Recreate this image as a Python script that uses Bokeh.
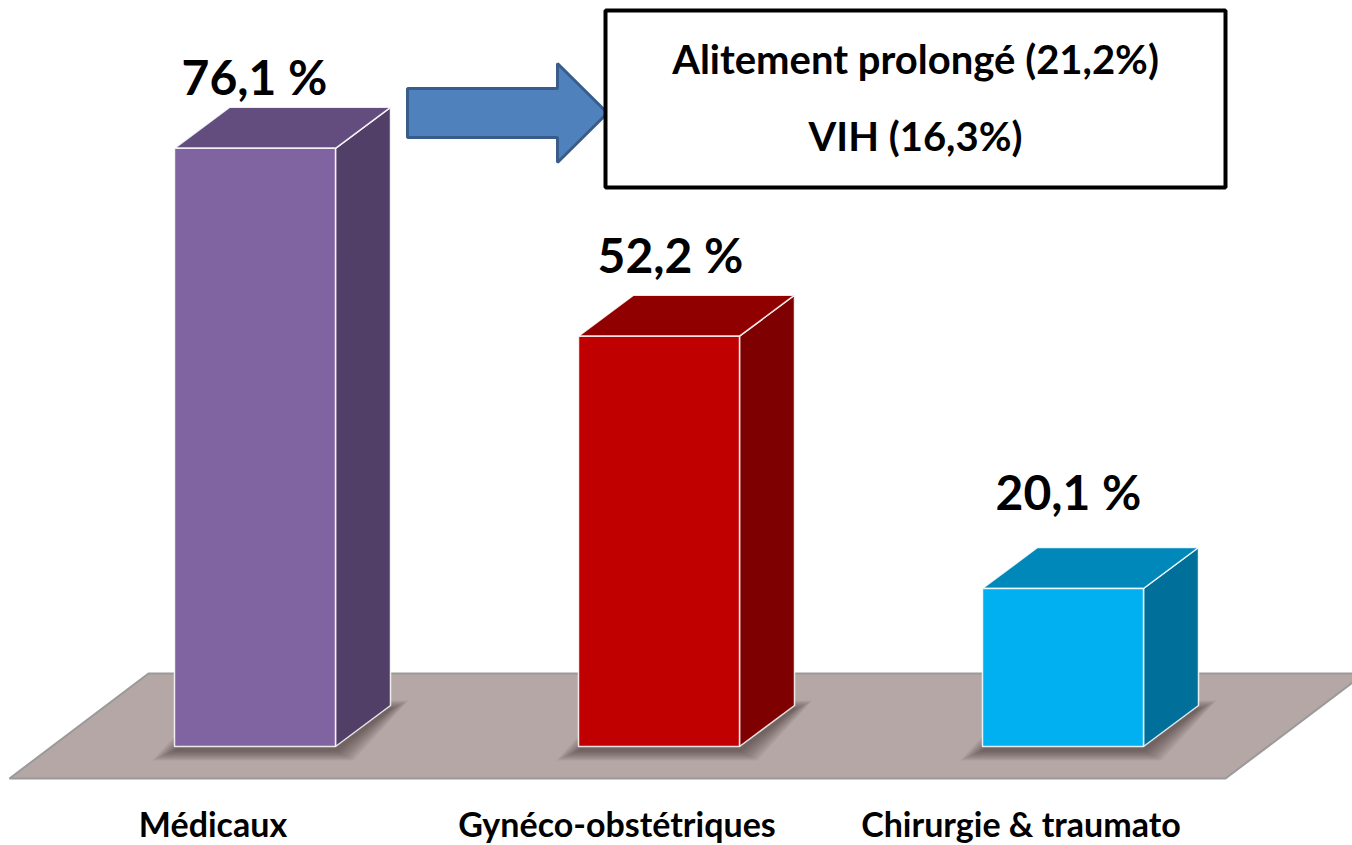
from bokeh.plotting import figure
from bokeh.models import Range1d, ColumnDataSource
from bokeh.core.properties import value
from bokeh.embed import file_html
from bokeh.resources import INLINE

# ---- data ----
categories = ["Médicaux", "Gynéco-obstétriques", "Chirurgie & traumato"]
values = [76.1, 52.2, 20.1]
value_labels = ["76,1 %", "52,2 %", "20,1 %"]
note_lines = ["Alitement prolongé (21,2%)", "VIH (16,3%)"]

# ---- style ----
front_colors = ["#8064A2", "#C00000", "#00B0F0"]
side_colors = ["#523F68", "#7F0000", "#00709A"]
top_colors = ["#634C7E", "#900000", "#0088BA"]
label_dy = [6.7, 7.9, 9.9]      # percent units above bar top (baseline)
label_dx = [-0.5, 11.5, 5.5]    # px offset of value labels
FONT = "Lato"
VAL_SIZE = 48
CAT_SIZE = 34
NOTE_SIZE = 40
BASE_FIX = 0.41                 # em correction for rendered baseline

W, H = 1352, 845
XU = 404.0   # px per category step
YU = 7.86    # px per percent
X0 = 254.5   # page x of first bar centre
Y0 = 746.0   # page y of value 0


def sx(px):
    return (px - X0) / XU


def sy(py):
    return (Y0 - py) / YU


p = figure(width=W, height=H,
           x_range=Range1d(sx(0), sx(W)),
           y_range=Range1d(sy(H), sy(0)),
           output_backend="svg", toolbar_location=None,
           x_axis_location=None, y_axis_location=None,
           min_border=0, background_fill_color="white",
           border_fill_color="white")
p.grid.visible = False
p.outline_line_color = None

bw = 161.0 / XU
ddx = 55.0 / XU
ddy = 41.0 / YU
idx = list(range(len(values)))

# ---- floor ----
p.patch([sx(9), sx(1225), sx(1364), sx(148)],
        [sy(778), sy(778), sy(673), sy(673)],
        fill_color="#B4A7A5", line_color="#9A9A9A", line_width=2)

# ---- soft shadows ----
for k in range(9):
    e = 22 - 2.5 * k
    ex = e / XU
    ey = e / YU
    off = 4 / YU
    xs, ys = [], []
    for i in idx:
        l = i - bw / 2 - ex
        r = i + bw / 2 + ex * 0.8
        xs.append([l, r, r + ddx, l + ddx])
        ys.append([-ey * 0.45 - off, -ey * 0.45 - off, ddy + ey * 0.4 - off, ddy + ey * 0.4 - off])
    p.patches(xs, ys, fill_color="#2a1f1f", fill_alpha=0.065, line_color=None)

# ---- 3D bars ----
fx, fy, sxs, sys_, tx, ty = [], [], [], [], [], []
for i, v in zip(idx, values):
    l, r = i - bw / 2, i + bw / 2
    fx.append([l, r, r, l]); fy.append([0, 0, v, v])
    sxs.append([r, r + ddx, r + ddx, r]); sys_.append([0, ddy, v + ddy, v])
    tx.append([l, r, r + ddx, l + ddx]); ty.append([v, v, v + ddy, v + ddy])

p.patches(sxs, sys_, fill_color=side_colors, line_color="white", line_alpha=0.85, line_width=1.5)
p.patches(tx, ty, fill_color=top_colors, line_color="white", line_alpha=0.85, line_width=1.5)
p.patches(fx, fy, fill_color=front_colors, line_color="white", line_alpha=0.85, line_width=1.5)

# ---- value labels ----
src = ColumnDataSource(dict(
    x=[i + d / XU for i, d in zip(idx, label_dx)],
    y=[v + d + BASE_FIX * VAL_SIZE / YU for v, d in zip(values, label_dy)],
    t=value_labels))
p.text("x", "y", text="t", source=src, text_font=value(FONT), text_font_style="bold",
       text_font_size=f"{VAL_SIZE}px", text_align="center", text_baseline="alphabetic",
       text_color="black")

# ---- category labels ----
csrc = ColumnDataSource(dict(x=[i - 42 / XU for i in idx],
                             y=[sy(837 - BASE_FIX * CAT_SIZE)] * len(idx), t=categories))
p.text("x", "y", text="t", source=csrc, text_font=value(FONT), text_font_style="bold",
       text_font_size=f"{CAT_SIZE}px", text_align="center", text_baseline="alphabetic",
       text_color="black")

# ---- arrow ----
ax = [407, 557, 557, 607, 557, 557, 407]
ay = [88, 88, 63, 112.5, 162, 137, 137]
p.patch([sx(a) for a in ax], [sy(b) for b in ay],
        fill_color="#4F81BD", line_color="#385D8A", line_width=3)

# ---- note box ----
p.quad(left=sx(605), right=sx(1225), top=sy(10), bottom=sy(187),
       fill_color="white", line_color="black", line_width=4)
nsrc = ColumnDataSource(dict(x=[sx(915)] * 2,
                             y=[sy(75 - BASE_FIX * NOTE_SIZE), sy(152 - BASE_FIX * NOTE_SIZE)],
                             t=note_lines))
p.text("x", "y", text="t", source=nsrc, text_font=value(FONT), text_font_style="bold",
       text_font_size=f"{NOTE_SIZE}px", text_align="center", text_baseline="alphabetic",
       text_color="black")

open("out.html", "w").write(file_html(p, INLINE))
